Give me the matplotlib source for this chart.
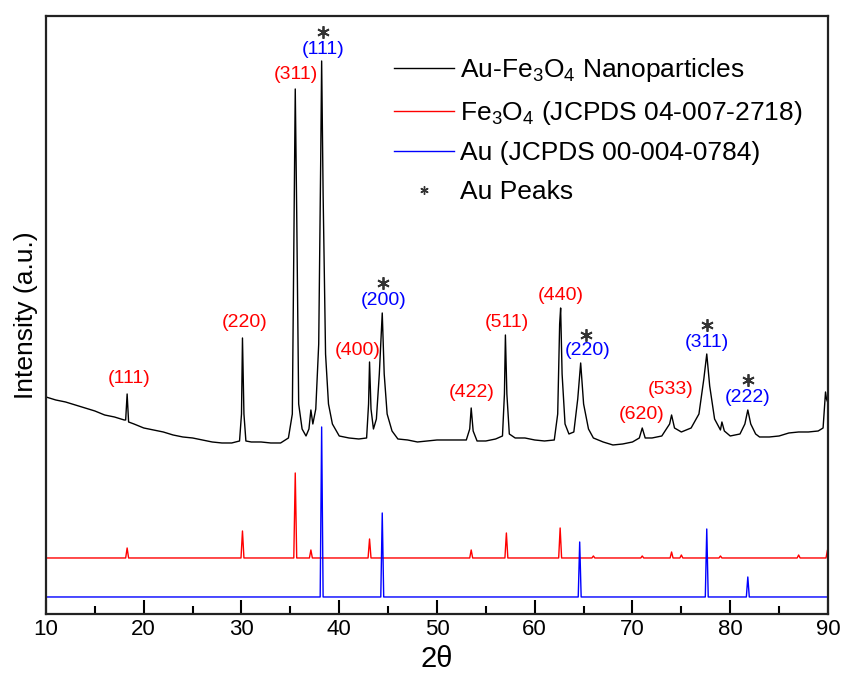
import numpy as np
import matplotlib
matplotlib.use('Agg')
import matplotlib.pyplot as plt
from matplotlib.lines import Line2D
from matplotlib.ticker import MultipleLocator

plt.rcParams['font.family'] = ['Liberation Sans', 'DejaVu Sans']
plt.rcParams['mathtext.fontset'] = 'custom'
plt.rcParams['mathtext.rm'] = 'Liberation Sans'
plt.rcParams['mathtext.it'] = 'Liberation Sans:italic'

sample_theta = [10.0, 11.0, 12.0, 13.0, 14.0, 15.0, 16.0, 17.0, 18.0, 18.15, 18.3, 18.45, 19.0,
                20.0, 21.0, 22.0, 23.0, 24.0, 25.0, 26.0, 27.0, 28.0, 29.0, 29.8, 30.0, 30.1,
                30.25, 30.45, 31.0, 32.0, 33.0, 34.0, 34.8, 35.2, 35.4, 35.5, 35.65, 35.85,
                36.2, 36.6, 36.9, 37.1, 37.3, 37.6, 37.9, 38.1, 38.2, 38.35, 38.6, 38.9, 39.3,
                40.0, 41.0, 42.0, 42.8, 43.0, 43.1, 43.25, 43.5, 43.8, 44.1, 44.4, 44.6, 44.9,
                45.4, 46.0, 47.0, 48.0, 49.0, 50.0, 51.0, 52.0, 53.0, 53.35, 53.5, 53.7, 54.1,
                55.0, 56.0, 56.7, 56.9, 57.0, 57.15, 57.4, 58.0, 59.0, 60.0, 61.0, 62.0, 62.35,
                62.55, 62.65, 62.8, 63.1, 63.5, 64.0, 64.4, 64.7, 65.0, 65.5, 66.0, 67.0, 68.0,
                69.0, 70.0, 70.7, 71.0, 71.3, 72.0, 73.0, 73.8, 74.0, 74.3, 75.0, 76.0, 76.8,
                77.3, 77.6, 77.9, 78.4, 79.0, 79.15, 79.4, 80.0, 81.0, 81.5, 81.8, 82.1, 82.6,
                83.0, 84.0, 85.0, 86.0, 87.0, 88.0, 89.0, 89.5, 89.75, 89.85, 90.0]
sample_int = [217, 214, 212, 209, 206, 203, 199, 197, 194, 194, 220, 192, 190,
              186, 184, 182, 179, 177, 176, 174, 172, 171, 171, 173, 200, 276,
              200, 173, 172, 172, 171, 171, 176, 200, 420, 525, 400, 210,
              185, 178, 185, 204, 190, 205, 270, 450, 553, 420, 260, 210, 190,
              178, 176, 175, 176, 210, 252, 205, 185, 195, 240, 301, 240, 200,
              183, 175, 174, 172, 173, 174, 174, 174, 174, 185, 206, 183, 173,
              173, 175, 178, 220, 279, 220, 180, 176, 176, 174, 173, 174, 200,
              290, 306, 240, 190, 180, 182, 215, 251, 210, 185, 176, 172, 169,
              170, 172, 176, 186, 176, 176, 178, 190, 199, 186, 182, 186, 200,
              235, 260, 228, 195, 184, 192, 183, 178, 180, 190, 204, 190, 180,
              177, 177, 178, 181, 182, 182, 183, 186, 222, 215, 211]

# Fe3O4 reference (JCPDS 04-007-2718)
fe_base = 56
fe_pos = [18.3, 30.1, 35.5, 37.1, 43.1, 53.5, 57.1, 62.6, 66.0, 71.0, 74.0, 75.0, 79.0, 87.0, 89.95]
fe_top = [66, 83, 141, 64, 75, 64, 81, 86, 58, 58, 62, 59, 58, 59, 64]

# Au reference (JCPDS 00-004-0784)
au_base = 17
au_pos = [38.2, 44.4, 64.6, 77.6, 81.8]
au_top = [187, 101, 72, 85, 37]

# peak index labels
fe_labels = ['(111)', '(220)', '(311)', '(400)', '(422)', '(511)', '(440)', '(620)', '(533)']
fe_lab_x = [18.5, 30.3, 35.6, 41.9, 53.6, 57.1, 62.7, 70.9, 73.9]
fe_lab_y = [235, 291, 539, 263, 221, 291, 318, 199, 224]
au_labels = ['(111)', '(200)', '(220)', '(311)', '(222)']
au_lab_x = [38.35, 44.5, 65.45, 77.6, 81.8]
au_lab_y = [564, 313, 263, 271, 216]
star_x = [38.35, 44.5, 65.2, 77.6, 81.8]
star_y = [582, 331, 279, 289, 234]


def stick_pattern(pos, top, base, w=0.15):
    xs, ys = [10], [base]
    for p, t in zip(pos, top):
        xs += [p - w, p, p + w]
        ys += [base, t, base]
    xs.append(90)
    ys.append(base)
    return xs, ys


fig = plt.figure(figsize=(8.41, 6.75), dpi=100)
ax = fig.add_axes([0.0547, 0.0904, 0.9298, 0.8859])

ax.plot(sample_theta, sample_int, color='black', lw=1.0)
fx, fy = stick_pattern(fe_pos, fe_top, fe_base)
ax.plot(fx, fy, color='#ff0000', lw=1.0)
bx, by = stick_pattern(au_pos, au_top, au_base)
ax.plot(bx, by, color='#0000ff', lw=1.0)

for t, x, y in zip(fe_labels, fe_lab_x, fe_lab_y):
    ax.text(x, y, t, color='#ff0000', fontsize=14, ha='center', va='center')
for t, x, y in zip(au_labels, au_lab_x, au_lab_y):
    ax.text(x, y, t, color='#0000ff', fontsize=14, ha='center', va='center')
# asterisks marking the Au peaks
ax.plot(star_x, star_y, ls='none', marker=(6, 2, 0), markersize=9, color='#333333', mew=1.3)

ax.set_xlim(10, 90)
ax.set_ylim(0, 598)
ax.set_yticks([])
ax.xaxis.set_major_locator(MultipleLocator(10))
ax.xaxis.set_minor_locator(MultipleLocator(5))
ax.tick_params(axis='x', which='both', direction='in', top=False, labelsize=16, width=1.5)
ax.tick_params(axis='x', which='major', length=10)
ax.tick_params(axis='x', which='minor', length=6)
for s in ax.spines.values():
    s.set_linewidth(1.6)
    s.set_color('#222222')

ax.set_xlabel('2θ', fontsize=21, labelpad=4)
ax.set_ylabel('Intensity (a.u.)', fontsize=19, labelpad=6)

handles = [Line2D([], [], color='black', lw=1.0),
           Line2D([], [], color='#ff0000', lw=1.0),
           Line2D([], [], color='#0000ff', lw=1.0),
           Line2D([], [], color='#333333', ls='none', marker=(6, 2, 0), markersize=6)]
names = [r'Au-Fe$_3$O$_4$ Nanoparticles', r'Fe$_3$O$_4$ (JCPDS 04-007-2718)',
         'Au (JCPDS 00-004-0784)', 'Au Peaks']
ax.legend(handles, names, loc='upper left', bbox_to_anchor=(0.431, 0.95), frameon=False,
          fontsize=19, handlelength=2.3, handletextpad=0.23, labelspacing=0.55, borderaxespad=0)

fig.savefig('out.png', dpi=100)
